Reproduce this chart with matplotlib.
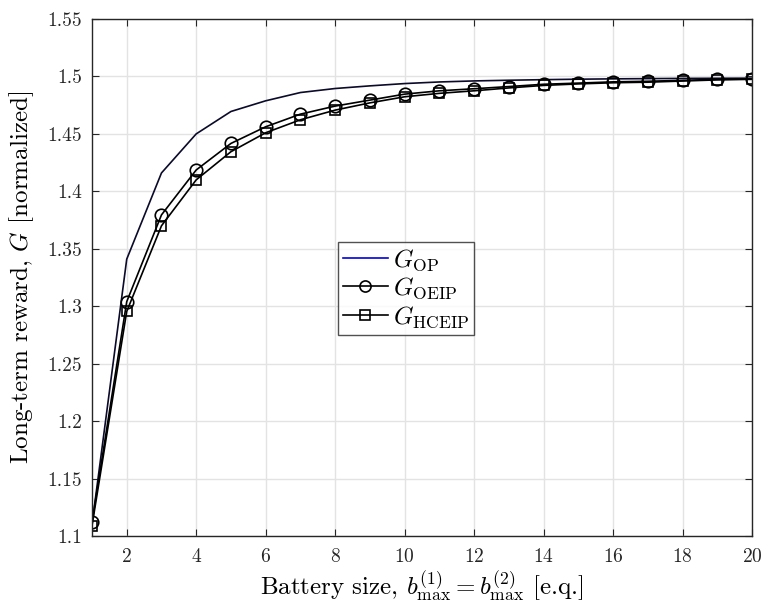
import matplotlib
matplotlib.use("Agg")
import matplotlib.pyplot as plt
from matplotlib.lines import Line2D

plt.rcParams['font.family'] = 'serif'
plt.rcParams['font.serif'] = ['cmr10']
plt.rcParams['mathtext.fontset'] = 'cm'
plt.rcParams['axes.formatter.use_mathtext'] = True

battery = list(range(1, 21))
g_op = [1.110, 1.341, 1.416, 1.450, 1.4695, 1.4788, 1.486, 1.4895, 1.4918, 1.4938,
        1.4952, 1.4961, 1.4967, 1.4972, 1.4976, 1.4979, 1.4981, 1.4983, 1.4984, 1.4985]
g_oeip = [1.112, 1.304, 1.3795, 1.4186, 1.4417, 1.4562, 1.4672, 1.4742, 1.4794, 1.4846,
          1.4875, 1.4893, 1.4912, 1.4932, 1.4942, 1.4953, 1.4958, 1.4966, 1.4975, 1.4977]
g_hceip = [1.109, 1.2955, 1.370, 1.410, 1.4345, 1.451, 1.4623, 1.4707, 1.477, 1.4823,
           1.4853, 1.4875, 1.4900, 1.4922, 1.4935, 1.4945, 1.4950, 1.4960, 1.4970, 1.4975]
legend_labels = [r'$G_{\mathrm{OP}}$', r'$G_{\mathrm{OEIP}}$', r'$G_{\mathrm{HCEIP}}$']
ytick_vals = [1.1, 1.15, 1.2, 1.25, 1.3, 1.35, 1.4, 1.45, 1.5, 1.55]
ytick_labels = ['1.1', '1.15', '1.2', '1.25', '1.3', '1.35', '1.4', '1.45', '1.5', '1.55']

fig = plt.figure(figsize=(7.61, 6.05), dpi=100)
ax = fig.add_axes([92/761, 69/605, 660/761, 517/605])

ax.plot(battery, g_op, color='#0a0a2a', lw=1.2)
ax.plot(battery, g_oeip, color='black', lw=1.2, marker='o', ms=9, mfc='none', mew=1.2)
ax.plot(battery, g_hceip, color='black', lw=1.2, marker='s', ms=7.5, mfc='none', mew=1.2)

ax.set_xlim(1, 20)
ax.set_ylim(1.1, 1.55)
ax.set_xticks(range(2, 21, 2))
ax.set_yticks(ytick_vals)
ax.set_yticklabels(ytick_labels)
ax.grid(True, color='#e3e3e3', lw=1.0)
ax.set_axisbelow(True)
ax.tick_params(direction='in', top=True, right=True, labelsize=14, colors='#262626', length=5)
ax.tick_params(axis='x', pad=9)
ax.tick_params(axis='y', pad=7)
for s in ax.spines.values():
    s.set_color('#262626')
    s.set_linewidth(1.0)

ax.set_xlabel(r'Battery size, $b_{\max}^{(1)} = b_{\max}^{(2)}$ [e.q.]', fontsize=18, labelpad=2)
ax.set_ylabel(r'Long-term reward, $G$ [normalized]', fontsize=18, labelpad=8)

handles = [Line2D([], [], color='#0000dd', lw=1.2),
           Line2D([], [], color='black', lw=1.2, marker='o', ms=8, mfc='none', mew=1.2),
           Line2D([], [], color='black', lw=1.2, marker='s', ms=7, mfc='none', mew=1.2)]
leg = ax.legend(handles, legend_labels, loc='upper left', bbox_to_anchor=(0.372, 0.568),
                fontsize=18, frameon=True, fancybox=False, edgecolor='#262626',
                handlelength=1.8, handletextpad=0.2, borderpad=0.2, labelspacing=0.12,
                borderaxespad=0)
leg.get_frame().set_linewidth(1.0)

fig.savefig('out.png', dpi=100)
